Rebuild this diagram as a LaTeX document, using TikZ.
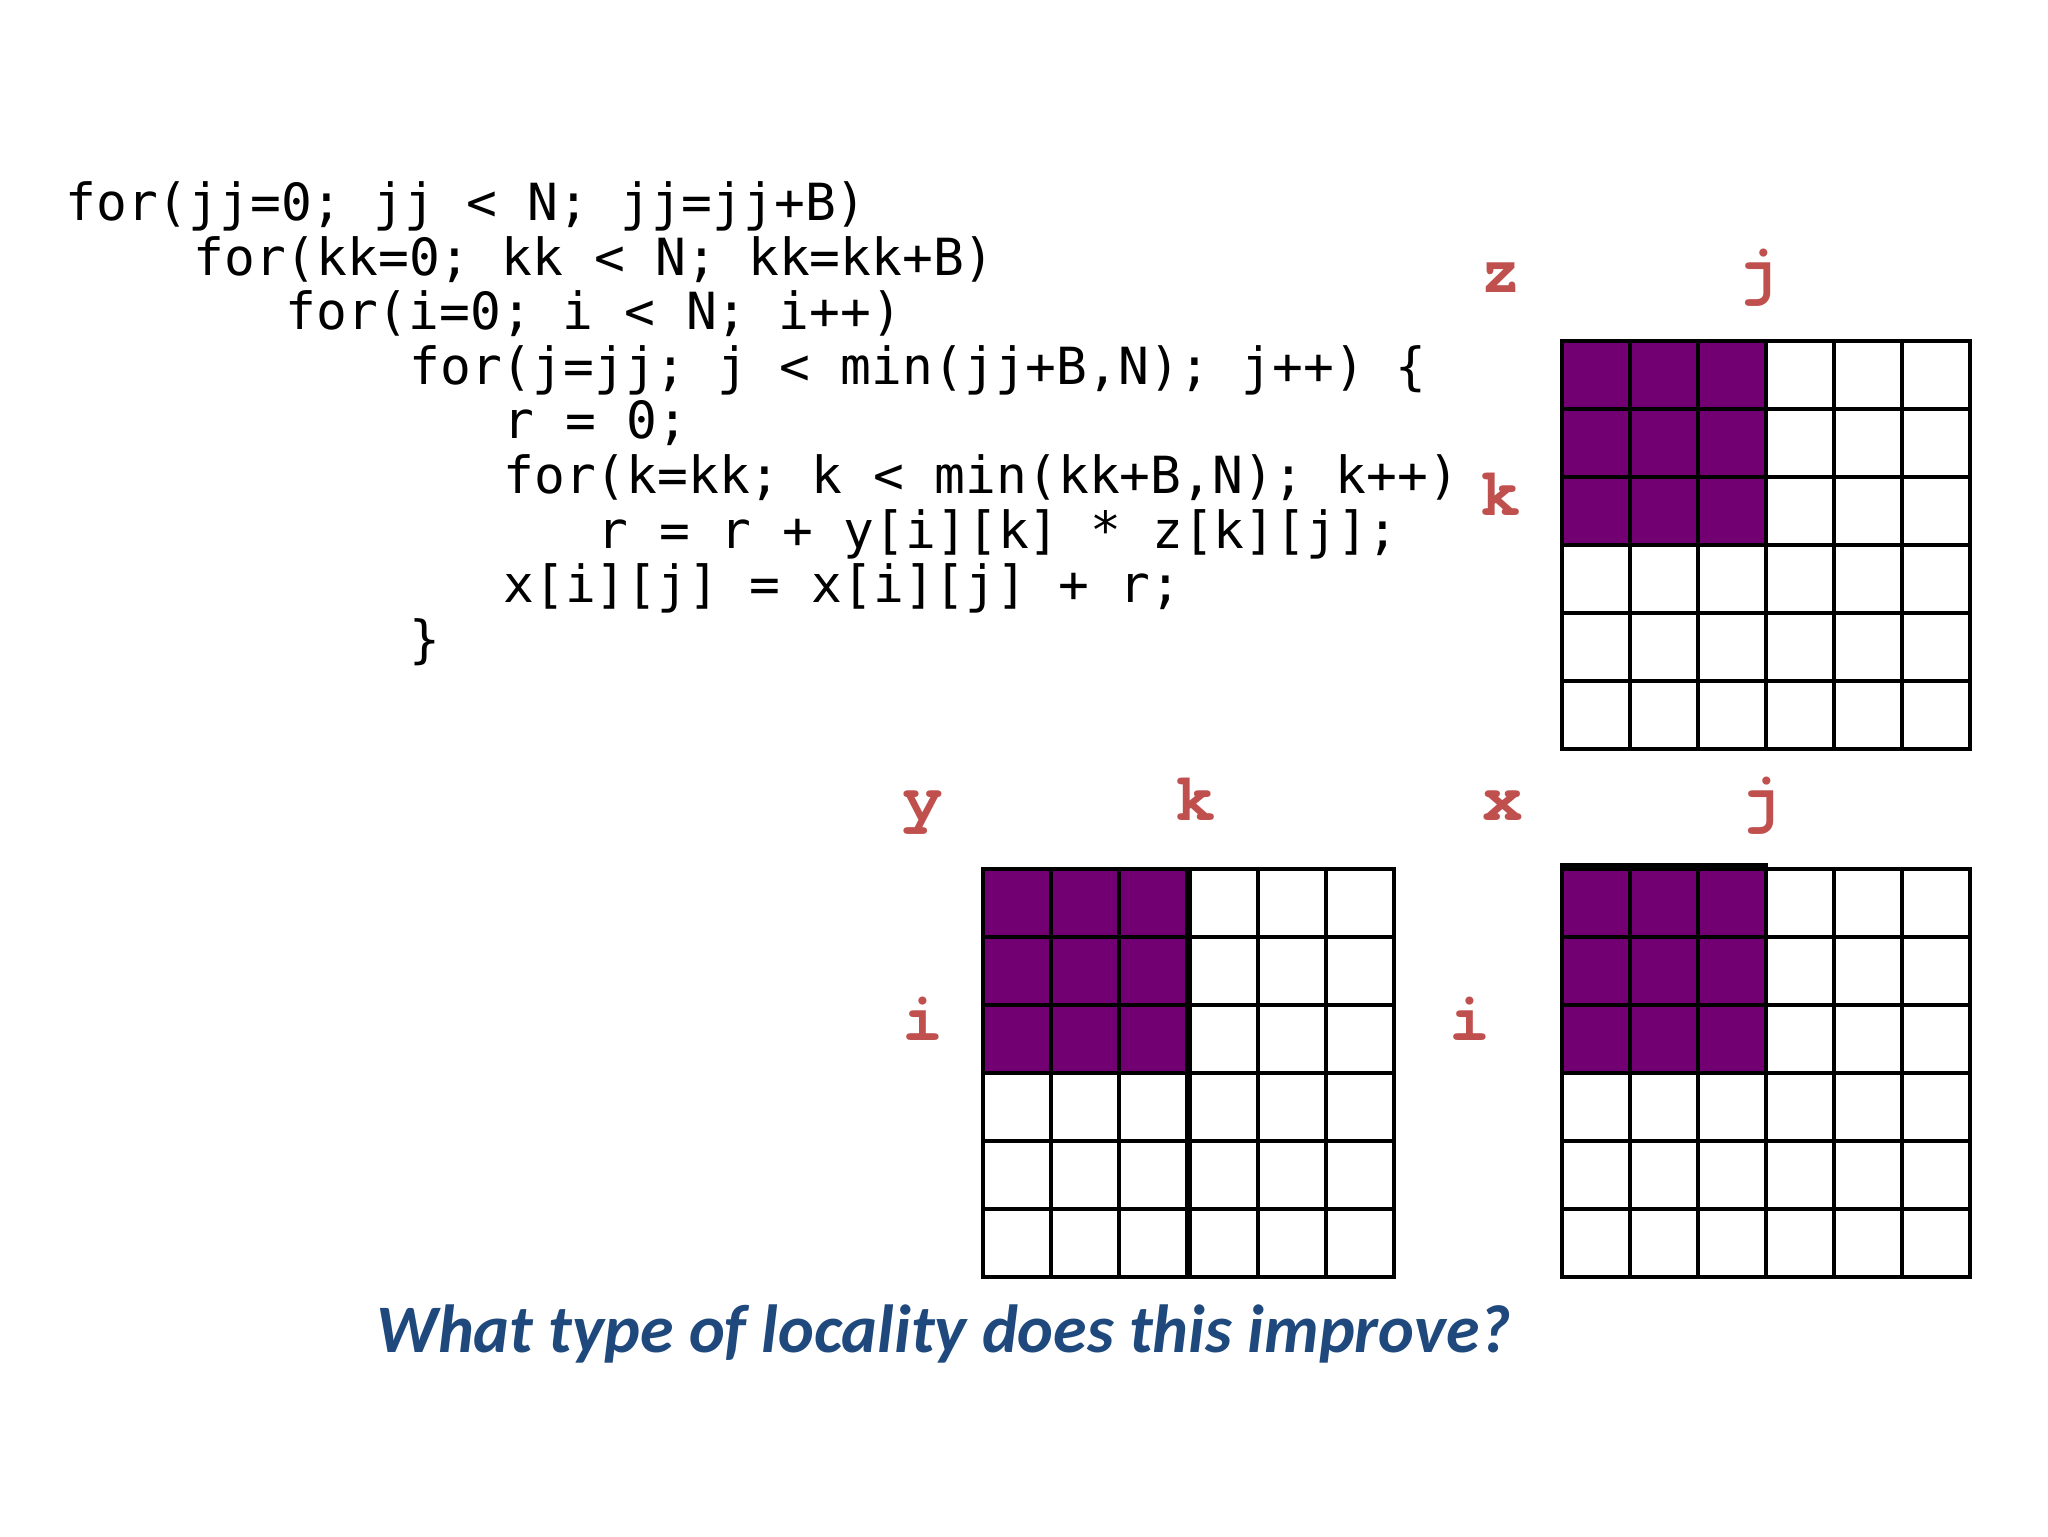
\documentclass[tikz,border=0pt]{standalone}
\usepackage{fontspec}
\newfontfamily\codefont{DejaVu Sans Mono}
\newfontfamily\labfont{TeX Gyre Cursor}
\newfontfamily\qfont{Carlito}
\definecolor{purp}{RGB}{114,0,114}
\definecolor{labred}{RGB}{192,80,77}
\definecolor{qblue}{RGB}{31,73,125}
\newcommand\cellgrid[4]{% x0, y0, columns, rows (cell 68)
  \foreach \ci in {0,...,#3} {\draw[gridline] (#1+\ci*68,#2) -- ++(0,#4*68);}
  \foreach \ri in {0,...,#4} {\draw[gridline] (#1,#2+\ri*68) -- ++(#3*68,0);}
}
\begin{document}
\begin{tikzpicture}[x=0.5pt,y=-0.5pt,
  codeline/.style={anchor=base west,inner sep=0pt,font=\codefont\fontsize{25.6pt}{27pt}\selectfont},
  axislab/.style={anchor=base,inner sep=0pt,text=labred,font=\labfont\bfseries\fontsize{34pt}{36pt}\selectfont},
  gridline/.style={line width=1.75pt,black,line cap=rect},
  question/.style={anchor=base west,inner sep=0pt,text=qblue,font=\qfont\bfseries\itshape\fontsize{34pt}{37pt}\selectfont}]
\useasboundingbox[fill=white] (0,0) rectangle (2048,1536);

% code
\node[codeline] (c1) at (65,220) {for(jj=0; jj < N; jj=jj+B)};
\node[codeline] (c2) at (193,275) {for(kk=0; kk < N; kk=kk+B)};
\node[codeline] (c3) at (285,329) {for(i=0; i < N; i++)};
\node[codeline] (c4) at (409,384) {for(j=jj; j < min(jj+B,N); j++) \{};
\node[codeline] (c5) at (503,438) {r = 0;};
\node[codeline] (c6) at (503,493) {for(k=kk; k < min(kk+B,N); k++)};
\node[codeline] (c7) at (597,548) {r = r + y[i][k] * z[k][j];};
\node[codeline] (c8) at (503,602) {x[i][j] = x[i][j] + r;};
\node[codeline] (c9) at (409,657) {\}};

% z matrix
\fill[purp] (1562,341) rectangle ++(204,204);
\cellgrid{1562}{341}{6}{6}
\node[axislab] (zname) at (1501,292) {z};
\node[axislab] (zj) at (1758,292) {j};
\node[axislab] (zk) at (1501,515) {k};

% y matrix
\fill[purp] (983,869) rectangle ++(204,204);
\cellgrid{983}{869}{3}{6}
\cellgrid{1190}{869}{3}{6}
\node[axislab] (yname) at (923,820) {y};
\node[axislab] (yk) at (1196,820) {k};
\node[axislab] (yi) at (923,1040) {i};

% x matrix
\fill[purp] (1562,865) rectangle ++(204,208);
\cellgrid{1562}{869}{6}{6}
\draw[gridline] (1562,865) -- ++(204,0);
\draw[gridline] (1562,865) -- (1562,869);
\draw[gridline] (1766,865) -- (1766,869);
\node[axislab] (xname) at (1503,820) {x};
\node[axislab] (xj) at (1761,820) {j};
\node[axislab] (xi) at (1470,1040) {i};

% question
\node[question] (q) at (376,1352) {What type of locality does this improve?};
\end{tikzpicture}
\end{document}
